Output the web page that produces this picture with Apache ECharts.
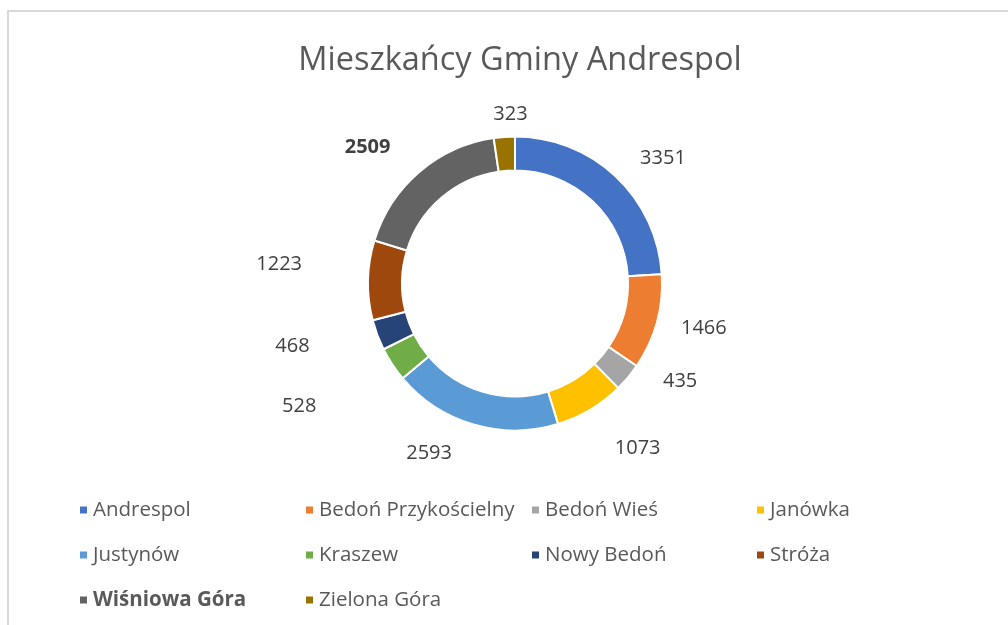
<!DOCTYPE html>
<html>
<head>
<meta charset="utf-8">
<script src="https://cdn.jsdelivr.net/npm/echarts@6/dist/echarts.min.js"></script>
<style>
html,body{margin:0;padding:0;background:#fff;}
#chart{width:1008px;height:625px;}
</style>
</head>
<body>
<div id="chart"></div>
<script>
var titleText = 'Mieszkańcy Gminy Andrespol';
var categories = ['Andrespol','Bedoń Przykościelny','Bedoń Wieś','Janówka','Justynów','Kraszew','Nowy Bedoń','Stróża','Wiśniowa Góra','Zielona Góra'];
var values = [3351,1466,435,1073,2593,528,468,1223,2509,323];
var colors = ['#4472C4','#ED7D31','#A5A5A5','#FFC000','#5B9BD5','#70AD47','#264478','#9E480E','#636363','#997300'];
var boldCategory = 'Wiśniowa Góra';

// label styling: distance from ring and small text nudges (style only)
var labelReach = [30,25,22,40,30,86,68,62,38,10];
var labelNudge = [[0,4],[-4,0],[14,-10],[0,4],[-9,0],[0,-5],[0,-13],[0,-15],[0,4],[28,-13]];

var FONT = '"Open Sans", "Noto Sans", sans-serif';

var pieData = categories.map(function(c,i){
  var bold = c === boldCategory;
  return {
    name: c,
    value: values[i],
    itemStyle: {color: colors[i]},
    label: {fontWeight: bold ? 'bold' : 'normal'},
    labelLine: {length: labelReach[i], length2: 0}
  };
});

var columns = [[0,4,8],[1,5,9],[2,6],[3,7]];
var colLeft = [73, 299, 525, 750];
var legends = columns.map(function(idxs, k){
  return {
    orient: 'vertical',
    left: colLeft[k],
    top: 493,
    itemWidth: 9,
    itemHeight: 9,
    itemGap: 21,
    icon: 'rect',
    selectedMode: false,
    textStyle: {fontFamily: FONT, fontSize: 20.5, color: '#595959', lineHeight: 24, padding: [0,0,0,0]},
    data: idxs.map(function(i){
      var d = {name: categories[i], itemStyle: {color: colors[i]}};
      if (categories[i] === boldCategory) d.textStyle = {fontWeight: 'bold', color: '#595959'};
      return d;
    })
  };
});

var chart = echarts.init(document.getElementById('chart'));
chart.setOption({
  animation: false,
  color: colors,
  title: {
    text: titleText,
    left: 515,
    textAlign: 'center',
    top: 39,
    textStyle: {fontFamily: FONT, fontSize: 32.5, fontWeight: 'normal', color: '#595959'}
  },
  legend: legends,
  graphic: [
    {type: 'line', shape: {x1: 7, y1: 11, x2: 1008, y2: 11}, style: {stroke: '#d9d9d9', lineWidth: 2}},
    {type: 'line', shape: {x1: 8, y1: 11, x2: 8, y2: 625}, style: {stroke: '#d9d9d9', lineWidth: 2}}
  ],
  series: [{
    type: 'pie',
    center: [515, 283.5],
    radius: [113, 147],
    startAngle: 90,
    clockwise: true,
    avoidLabelOverlap: false,
    itemStyle: {borderColor: '#ffffff', borderWidth: 2},
    label: {
      show: true,
      position: 'outside',
      formatter: '{c}',
      fontFamily: FONT,
      fontSize: 20,
      color: '#404040',
      distanceToLabelLine: 4
    },
    labelLine: {show: false},
    labelLayout: function(p){
      var n = labelNudge[p.dataIndex] || [0,0];
      return {dx: n[0], dy: n[1]};
    },
    emphasis: {disabled: true},
    data: pieData
  }]
});
</script>
</body>
</html>
